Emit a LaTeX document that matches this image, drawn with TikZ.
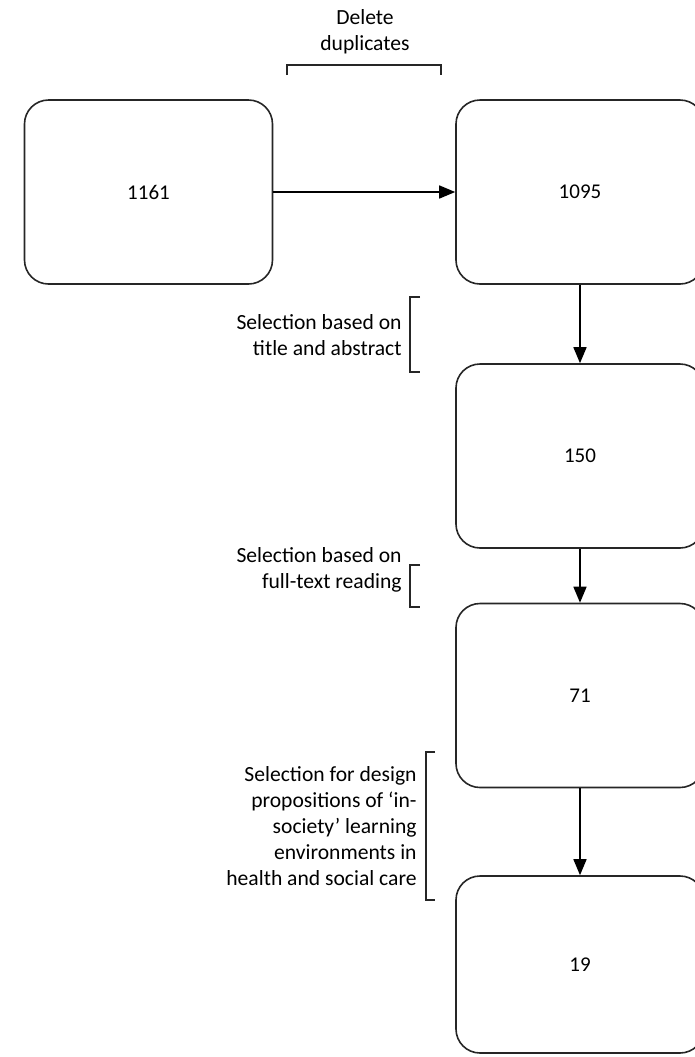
\documentclass[tikz,border=0pt]{standalone}
\usepackage{fontspec}
\setmainfont{Carlito}
\usetikzlibrary{arrows.meta}

\begin{document}
\begin{tikzpicture}[x=0.5pt, y=-0.5pt,
  stage/.style={draw=black!85, line width=0.8pt, rounded corners=12pt,
    minimum width=124pt, minimum height=92pt, font=\fontsize{10.5}{12}\selectfont},
  note/.style={align=right, inner sep=0pt, font=\fontsize{10.8}{13}\selectfont},
  flow/.style={line width=0.8pt, -{Triangle[length=8pt,width=6.5pt]}},
  brace/.style={line width=0.7pt, black!85}]
  \useasboundingbox (0,0) rectangle (695,1057);
  % stages
  \node [stage] (s1161) at (148.5,192) {1161};
  \node [stage] (s1095) at (580,192) {1095};
  \node [stage] (s150) at (580,456) {150};
  \node [stage] (s71) at (580,695.5) {71};
  \node [stage, minimum height=88.5pt] (s19) at (580,964.5) {19};
  % connectors
  \draw [flow] (s1161) -- (s1095);
  \foreach \a/\b in {s1095/s150, s150/s71, s71/s19} {
    \draw [flow] (\a) -- (\b);
  };
  % notes
  \node [note, align=center] (ndup) at (365,32) {Delete\\duplicates};
  \node [note, anchor=east] (ntitle) at (402,335) {Selection based on\\title and abstract};
  \node [note, anchor=east] (nfull) at (402,570) {Selection based on\\full-text reading};
  \node [note, anchor=east] (ndesign) at (417,826) {Selection for design\\propositions of `in-\\society' learning\\environments in\\health and social care};
  % brackets
  \draw [brace] (287,75) -- (287,65) -- (441,65) -- (441,75);
  \draw [brace] (420,297) -- (410,297) -- (410,372) -- (420,372);
  \draw [brace] (420,565) -- (410,565) -- (410,607) -- (420,607);
  \draw [brace] (435,752) -- (426,752) -- (426,900) -- (435,900);
\end{tikzpicture}
\end{document}
